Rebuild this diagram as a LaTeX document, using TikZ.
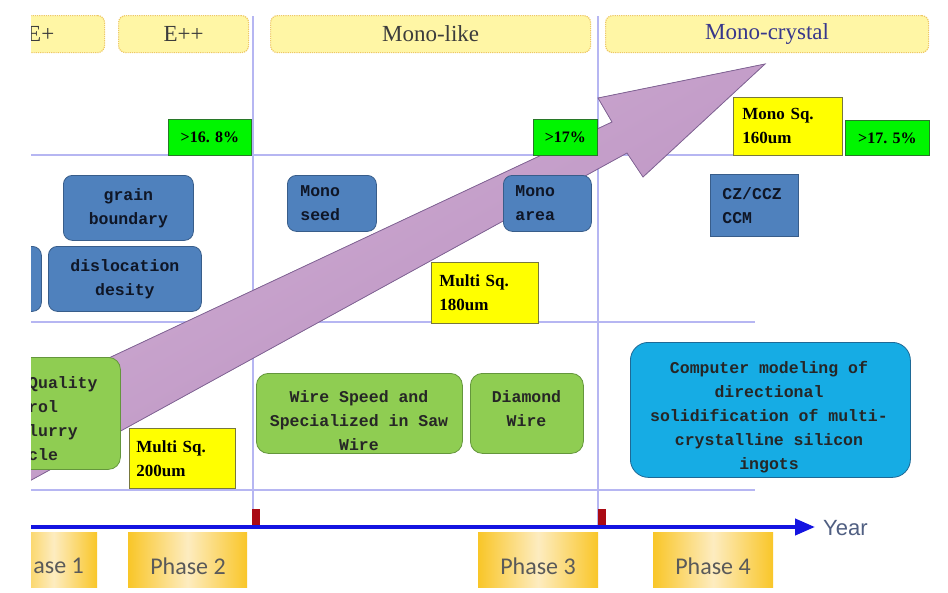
\documentclass[tikz,border=0pt]{standalone}
\usepackage{fontspec}
\setmainfont{Liberation Serif}
\newfontfamily\monof{Liberation Mono}
\newfontfamily\carl{Carlito}
\newfontfamily\lsans{Liberation Sans}
\usetikzlibrary{arrows.meta}
\definecolor{hdrfill}{RGB}{255,246,165}
\definecolor{hdrline}{RGB}{238,200,100}
\definecolor{hdrtext}{RGB}{60,60,60}
\definecolor{mctext}{RGB}{55,55,140}
\definecolor{pctfill}{RGB}{0,245,0}
\definecolor{pctline}{RGB}{40,120,40}
\definecolor{sqfill}{RGB}{255,255,0}
\definecolor{sqline}{RGB}{120,120,60}
\definecolor{bluefill}{RGB}{79,129,189}
\definecolor{blueline}{RGB}{56,93,138}
\definecolor{bluetext}{RGB}{15,22,38}
\definecolor{greenfill}{RGB}{143,205,82}
\definecolor{greenline}{RGB}{100,150,60}
\definecolor{cyanfill}{RGB}{22,172,228}
\definecolor{cyanline}{RGB}{30,105,150}
\definecolor{gridline}{RGB}{182,182,242}
\definecolor{axisblue}{RGB}{20,20,225}
\definecolor{tickred}{RGB}{170,10,20}
\definecolor{phgold}{RGB}{249,198,40}
\definecolor{phlight}{RGB}{253,236,192}
\definecolor{phtext}{RGB}{90,90,90}
\definecolor{yeartext}{RGB}{80,95,130}
\definecolor{arrowfill}{RGB}{184,142,190}
\definecolor{arrowlight}{RGB}{208,174,212}
\definecolor{arrowline}{RGB}{130,100,150}
\begin{document}
\begin{tikzpicture}[x=1pt,y=-1pt,
  hdr/.style={draw=hdrline, densely dotted, line width=1.2pt, fill=hdrfill, rounded corners=7pt,
    font=\fontsize{23}{26}\selectfont, text=hdrtext, anchor=north west, inner sep=0pt, minimum height=37pt},
  pct/.style={draw=pctline, line width=0.8pt, fill=pctfill, font=\bfseries\fontsize{16}{18}\selectfont,
    anchor=north west, inner sep=0pt},
  sqbox/.style={draw=sqline, line width=0.8pt, fill=sqfill, font=\bfseries\fontsize{17}{24}\selectfont,
    anchor=north west, align=left, inner ysep=0pt},
  bluebox/.style={draw=blueline, line width=0.8pt, fill=bluefill, rounded corners=9pt,
    font=\monof\bfseries\fontsize{16.5}{24}\selectfont, text=bluetext, anchor=north west, inner ysep=0pt},
  greenbox/.style={draw=greenline, line width=0.8pt, fill=greenfill, rounded corners=12pt,
    anchor=north west, inner sep=0pt},
  cyanbox/.style={draw=cyanline, line width=0.8pt, fill=cyanfill, rounded corners=18pt,
    anchor=north west, inner sep=0pt},
  boxtext/.style={font=\monof\bfseries\fontsize{16.5}{24}\selectfont, text=black!85, align=center, inner sep=0pt},
  phase/.style={left color=phgold, right color=phgold, middle color=phlight, anchor=north west,
    inner sep=0pt, minimum height=55pt},
  phtxt/.style={font=\carl\fontsize{24}{28}\selectfont, text=phtext, inner sep=0pt},
  gridln/.style={draw=gridline, line width=1.4pt},
  tickbox/.style={fill=tickred, inner sep=0pt, minimum width=8pt, minimum height=16pt}
]
\useasboundingbox[fill=white] (0,0) rectangle (948,592);

% grid lines
\draw[gridln] (31,155) -- (755,155);
\draw[gridln] (31,322) -- (755,322);
\draw[gridln] (31,490) -- (755,490);
\draw[gridln] (253,16) -- (253,527);
\draw[gridln] (598,16) -- (598,527);

% header boxes
\begin{scope}
\clip (31,0) rectangle (948,592);
\node[hdr, minimum width=94pt] (hE1) at (10,15) {};
\node[font=\fontsize{23}{26}\selectfont, text=hdrtext, anchor=west, inner sep=0pt] (hE1t) at (27,34) {E+};
\end{scope}
\node[hdr, minimum width=130pt] (hE2) at (118,15) {E++};
\node[hdr, minimum width=320pt] (hML) at (270,15) {Mono-like};
\node[hdr, minimum width=323pt, text=mctext] (hMC) at (605,15) {Mono-crystal};

% blue boxes
\node[bluebox, minimum width=89pt, minimum height=56pt, text width=63pt, inner xsep=13pt, align=left] (ms) at (287,175) {Mono\\seed};
\node[bluebox, minimum width=130pt, minimum height=65pt, text width=130pt, inner xsep=0pt, align=center] (gb) at (63,175) {grain\\boundary};
\node[bluebox, minimum width=153pt, minimum height=65pt, text width=153pt, inner xsep=0pt, align=center] (dd) at (48,246) {dislocation\\desity};
\node[bluebox, rounded corners=0pt, minimum width=88pt, minimum height=62pt, text width=64pt, inner xsep=12pt, align=left] (cz) at (710,174) {CZ/CCZ\\CCM};
\begin{scope}
\clip (31,0) rectangle (948,592);
\node[bluebox, minimum width=61pt, minimum height=65pt] (bl) at (-20,246) {};
\end{scope}

% big arrow
\begin{scope}
\clip (31,0) rectangle (948,592);
\filldraw[draw=arrowline, line width=0.8pt, top color=arrowlight, bottom color=arrowfill, shading angle=30]
  (15,489) -- (627,153) -- (643,177) -- (765,64) -- (598,98) -- (612,122) -- (15,402) -- cycle;
\end{scope}

% Mono area box lies over the arrow
\node[bluebox, minimum width=88pt, minimum height=56pt, text width=64pt, inner xsep=12pt, align=left] (ma) at (503,175) {Mono\\area};

% percentage boxes
\node[pct, minimum width=83pt, minimum height=36pt] (p1) at (168,119) {>16. 8\%};
\node[pct, minimum width=64pt, minimum height=36pt] (p2) at (533,119) {>17\%};
\node[pct, minimum width=84pt, minimum height=35pt] (p3) at (845,120) {>17. 5\%};

% square size boxes
\node[sqbox, minimum width=109pt, minimum height=58pt, text width=91pt, inner xsep=9pt] (s160) at (733,97) {Mono Sq.\\160um};
\node[sqbox, minimum width=107pt, minimum height=61pt, text width=91pt, inner xsep=8pt] (s180) at (431,262) {Multi Sq.\\180um};
\node[sqbox, minimum width=106pt, minimum height=60pt, text width=92pt, inner xsep=7pt] (s200) at (129,428) {Multi Sq.\\200um};

% green boxes
\begin{scope}
\clip (31,0) rectangle (948,592);
\node[greenbox, minimum width=130pt, minimum height=112pt] (qb) at (-10,357) {};
\node[boxtext, align=left, anchor=west] (qt) at (28,419) {Quality\\rol\\lurry\\cle};
\end{scope}
\node[greenbox, minimum width=206pt, minimum height=80pt] (ws) at (256,373) {};
\node[boxtext] (wst) at (359,421) {Wire Speed and\\Specialized in Saw\\Wire};
\node[greenbox, minimum width=113pt, minimum height=80pt] (dw) at (470,373) {};
\node[boxtext] (dwt) at (526.5,409) {Diamond\\Wire};
\node[cyanbox, minimum width=280pt, minimum height=135pt] (cm) at (630,342) {};
\node[boxtext] (cmt) at (769,417) {Computer modeling of\\directional\\solidification of multi-\\crystalline silicon\\ingots};

% time axis
\coordinate (ax0) at (31,527);
\coordinate (ax1) at (815,527);
\draw[axisblue, line width=4pt, -{Triangle[length=20pt,width=16pt]}] (ax0) -- (ax1);
\node[font=\lsans\fontsize{22}{26}\selectfont, text=yeartext, anchor=west, inner sep=0pt] (yr) at (823,528) {Year};
\node[tickbox, anchor=south] (t1) at (256,525) {};
\node[tickbox, anchor=south] (t2) at (602,525) {};

% phases
\begin{scope}
\clip (31,0) rectangle (948,592);
\node[phase, minimum width=87pt] (ph1) at (10,532) {};
\node[phtxt, anchor=east] (ph1t) at (84,566) {ase 1};
\end{scope}
\node[phase, minimum width=119pt] (ph2) at (128,532) {};
\node[phtxt] (ph2t) at (188,566) {Phase 2};
\node[phase, minimum width=120pt] (ph3) at (478,532) {};
\node[phtxt] (ph3t) at (538,566) {Phase 3};
\node[phase, minimum width=120pt] (ph4) at (653,532) {};
\node[phtxt] (ph4t) at (713,566) {Phase 4};
\end{tikzpicture}
\end{document}
